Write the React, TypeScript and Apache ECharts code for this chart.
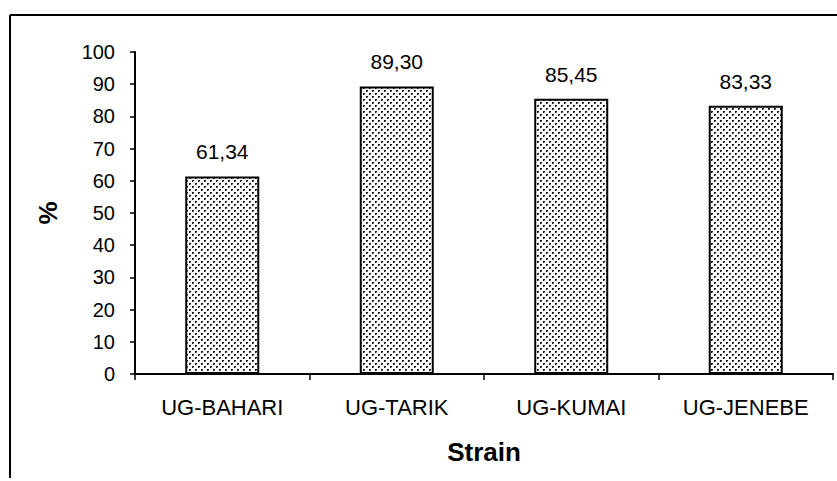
import React, { useEffect, useRef } from "react";
import * as echarts from "echarts";

const categories = ["UG-BAHARI", "UG-TARIK", "UG-KUMAI", "UG-JENEBE"];
const values = [61.34, 89.3, 85.45, 83.33];
const yTicks = { min: 0, max: 100, interval: 10 };

function makePattern(): string {
  const c = document.createElement("canvas");
  c.width = 6;
  c.height = 6;
  const ctx = c.getContext("2d")!;
  ctx.fillStyle = "#ffffff";
  ctx.fillRect(0, 0, 6, 6);
  ctx.fillStyle = "#1a1a1a";
  ctx.fillRect(0, 0, 2, 1);
  ctx.fillRect(0, 1, 1, 1);
  ctx.fillRect(3, 3, 2, 1);
  ctx.fillRect(3, 4, 1, 1);
  ctx.fillStyle = "#8a8a8a";
  ctx.fillRect(1, 1, 1, 1);
  ctx.fillRect(4, 4, 1, 1);
  return c.toDataURL();
}

export default function App() {
  const ref = useRef<HTMLDivElement>(null);
  useEffect(() => {
    if (!ref.current) return;
    const chart = echarts.init(ref.current, null, { renderer: "svg" });
    const font = "'Liberation Sans', Arial, sans-serif";
    chart.setOption({
      animation: false,
      backgroundColor: "#ffffff",
      grid: { left: 135, right: 4, top: 52, bottom: 107 },
      xAxis: {
        type: "category",
        data: categories,
        name: "Strain",
        nameLocation: "middle",
        nameGap: 65,
        nameTextStyle: { fontFamily: font, fontSize: 26, fontWeight: "bold", color: "#000" },
        axisLine: { lineStyle: { color: "#000", width: 2 } },
        axisTick: { show: true, length: 6, lineStyle: { color: "#000", width: 1.5 }, alignWithLabel: false },
        axisLabel: { fontFamily: font, fontSize: 22, color: "#000", margin: 22 },
      },
      yAxis: {
        type: "value",
        min: yTicks.min,
        max: yTicks.max,
        interval: yTicks.interval,
        name: "%",
        nameLocation: "middle",
        nameGap: 74,
        nameRotate: 90,
        nameTextStyle: { fontFamily: font, fontSize: 26, fontWeight: "bold", color: "#000" },
        axisLine: { show: true, lineStyle: { color: "#000", width: 2 } },
        axisTick: { show: true, length: 5, lineStyle: { color: "#000", width: 1.5 } },
        axisLabel: { fontFamily: font, fontSize: 20, color: "#000", margin: 20 },
        splitLine: { show: false },
      },
      series: [
        {
          type: "bar",
          data: values,
          barWidth: 74,
          itemStyle: {
            color: { image: makePattern(), repeat: "repeat" },
            borderColor: "#000",
            borderWidth: 2,
          },
          label: {
            show: true,
            position: "top",
            distance: 14,
            fontFamily: font,
            fontSize: 21,
            color: "#000",
            formatter: (p: any) => p.value.toFixed(2).replace(".", ","),
          },
        },
      ],
      graphic: [
        { type: "line", shape: { x1: 10, y1: 15, x2: 837, y2: 15 }, style: { stroke: "#000", lineWidth: 2 } },
        { type: "line", shape: { x1: 10, y1: 15, x2: 10, y2: 478 }, style: { stroke: "#000", lineWidth: 2 } },
      ],
    });
    return () => chart.dispose();
  }, []);
  return <div ref={ref} style={{ width: 837, height: 481, position: "absolute", left: 0, top: 0 }} />;
}
